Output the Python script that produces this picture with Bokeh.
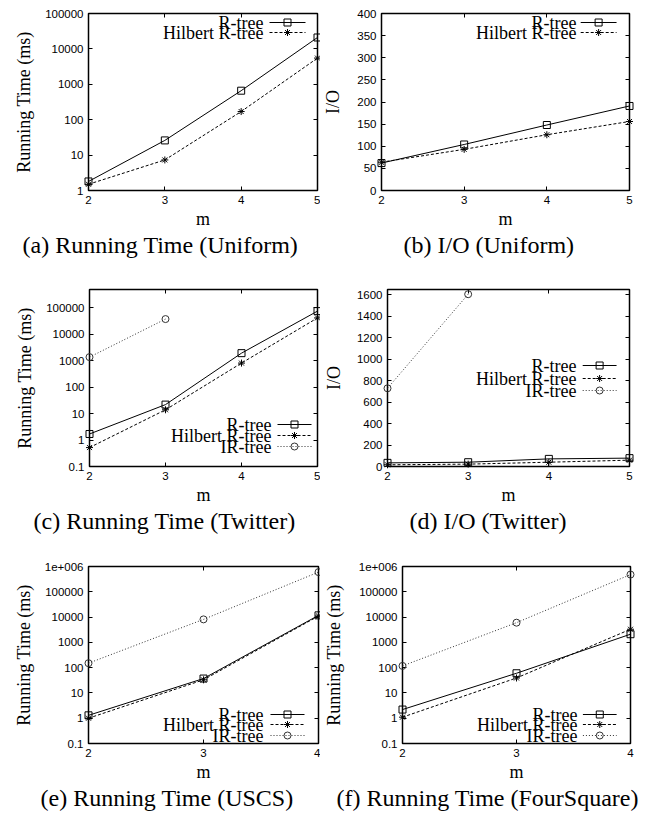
from bokeh.plotting import figure
from bokeh.models import Range1d, LinearScale, FixedTicker, LinearAxis, LogAxis, Label, Title
from bokeh.layouts import column, row
from bokeh.embed import file_html
from bokeh.resources import INLINE

# ---------------- data ----------------
m_to5 = [2, 3, 4, 5]
m_to4 = [2, 3, 4]
m_ir_twitter = [2, 3]

uniform_time_rtree = [1.8, 26, 660, 21000]
uniform_time_hilbert = [1.5, 7.3, 170, 5500]

uniform_io_rtree = [62, 104, 148, 191]
uniform_io_hilbert = [64, 93, 126, 156]

twitter_time_rtree = [1.7, 22, 1950, 76000]
twitter_time_hilbert = [0.52, 14, 820, 42000]
twitter_time_irtree = [1380, 38000]

twitter_io_rtree = [34, 40, 71, 78]
twitter_io_hilbert = [16, 22, 40, 59]
twitter_io_irtree = [729, 1606]

uscs_time_rtree = [1.3, 37, 11700]
uscs_time_hilbert = [1.0, 33, 11000]
uscs_time_irtree = [150, 8100, 600000]

foursquare_time_rtree = [2.2, 60, 2100]
foursquare_time_hilbert = [1.1, 39, 3300]
foursquare_time_irtree = [117, 6000, 480000]

ticks_time_a = [1, 10, 100, 1000, 10000, 100000]
labels_time_a = ["1", "10", "100", "1000", "10000", "100000"]
ticks_time_c = [0.1, 1, 10, 100, 1000, 10000, 100000]
labels_time_c = ["0.1", "1", "10", "100", "1000", "10000", "100000"]
ticks_time_ef = [0.1, 1, 10, 100, 1000, 10000, 100000, 1000000]
labels_time_ef = ["0.1", "1", "10", "100", "1000", "10000", "100000", "1e+006"]
ticks_io_uniform = [0, 50, 100, 150, 200, 250, 300, 350, 400]
labels_io_uniform = ["0", "50", "100", "150", "200", "250", "300", "350", "400"]
ticks_io_twitter = [0, 200, 400, 600, 800, 1000, 1200, 1400, 1600]
labels_io_twitter = ["0", "200", "400", "600", "800", "1000", "1200", "1400", "1600"]

series_names = ["R-tree", "Hilbert R-tree", "IR-tree"]
captions = ["(a) Running Time (Uniform)", "(b) I/O (Uniform)",
            "(c) Running Time (Twitter)", "(d) I/O (Twitter)",
            "(e) Running Time (USCS)", "(f) Running Time (FourSquare)"]

STYLE = {
    "R-tree": dict(dash="solid", marker="square", color="black"),
    "Hilbert R-tree": dict(dash="3 2", marker="asterisk", color="black"),
    "IR-tree": dict(dash="1 2", marker="circle", color="#333333"),
}

SERIF = "Liberation Serif"
SANS = "Liberation Sans"
FH = 177  # frame height


def style_axis(ax):
    ax.major_tick_in = 4
    ax.major_tick_out = 0
    ax.minor_tick_in = 0
    ax.minor_tick_out = 0
    ax.axis_line_color = None
    ax.major_tick_line_color = "black"
    ax.major_label_text_font = SANS
    ax.major_label_text_font_size = "11.5px"
    ax.major_label_text_color = "black"
    ax.major_label_standoff = 5
    ax.axis_label_text_font = SERIF
    ax.axis_label_text_font_size = "18px"
    ax.axis_label_text_font_style = "normal"
    ax.axis_label_text_color = "black"


def mirror_axis(cls, ticks):
    return cls(ticker=FixedTicker(ticks=ticks), major_label_text_font_size="1px",
               major_label_text_alpha=0.0,
               major_label_standoff=0, major_tick_in=4, major_tick_out=0,
               minor_tick_in=0, minor_tick_out=0, axis_line_color=None,
               major_tick_line_color="black")


def panel(width, height, mbl, mbr, mbt, mbb, fw, log, xrange, xticks, yrange, yticks, ylabels,
          ylabel, ylab_standoff, series, legend, caption, cap_offset):
    p = figure(width=width, height=height,
               x_range=Range1d(*xrange), y_range=Range1d(*yrange),
               y_axis_type="log" if log else "linear",
               output_backend="svg", toolbar_location=None,
               min_border_left=mbl, min_border_right=mbr,
               min_border_top=mbt, min_border_bottom=mbb)
    p.xgrid.visible = False
    p.ygrid.visible = False
    p.outline_line_color = "black"
    p.outline_line_width = 1.5
    p.outline_line_alpha = 1.0
    p.background_fill_color = "white"
    p.border_fill_color = "white"

    xa = p.xaxis[0]
    ya = p.yaxis[0]
    style_axis(xa)
    style_axis(ya)
    xa.ticker = FixedTicker(ticks=xticks)
    xa.axis_label = "m"
    xa.axis_label_standoff = 2
    ya.ticker = FixedTicker(ticks=yticks)
    ya.major_label_overrides = dict(zip(yticks, ylabels))
    ya.axis_label = ylabel
    ya.axis_label_standoff = ylab_standoff

    p.add_layout(mirror_axis(LinearAxis, xticks), "above")
    p.add_layout(mirror_axis(LogAxis if log else LinearAxis, yticks), "right")

    # pixel ranges for the gnuplot-style key
    p.extra_x_ranges = {"px": Range1d(0, fw)}
    p.extra_y_ranges = {"px": Range1d(0, FH)}
    p.extra_x_scales = {"px": LinearScale()}
    p.extra_y_scales = {"px": LinearScale()}

    for name, xs, ys in series:
        st = STYLE[name]
        p.line(xs, ys, line_color=st["color"], line_width=1, line_dash=st["dash"], level="overlay")
        p.scatter(xs, ys, marker=st["marker"], size=7, fill_color=None,
                  line_color=st["color"], line_width=1, level="overlay")

    text_right, s0, s1, rows = legend
    for name, ry in zip([s[0] for s in series], rows):
        st = STYLE[name]
        p.add_layout(Label(x=text_right, y=ry, x_units="screen", y_units="screen", text=name,
                           text_align="right", text_baseline="middle",
                           text_font=SERIF, text_font_size="18px", text_color="black"))
        p.line([s0, s1], [ry, ry], x_range_name="px", y_range_name="px",
               line_color=st["color"], line_width=1, line_dash=st["dash"], level="overlay")
        p.scatter([(s0 + s1) / 2], [ry], x_range_name="px", y_range_name="px",
                  marker=st["marker"], size=7, fill_color=None, line_color=st["color"],
                  line_width=1, level="overlay")

    p.add_layout(Title(text=caption, align="left", offset=cap_offset, standoff=0,
                       vertical_align="top",
                       text_font=SERIF, text_font_size="24px", text_font_style="normal",
                       text_color="black"), "below")
    return p


RT = "Running Time (ms)"

pa = panel(320, 284, 88, 3, 13, 94, 229, True, (2, 5), m_to5, (1, 100000), ticks_time_a, labels_time_a,
           RT, 8,
           [("R-tree", m_to5, uniform_time_rtree), ("Hilbert R-tree", m_to5, uniform_time_hilbert)],
           (175, 181, 217, [168, 158]), captions[0], -66)

pb = panel(323, 284, 60, 14, 13, 94, 249, False, (2, 5), m_to5, (0, 400), ticks_io_uniform, labels_io_uniform,
           "I/O", 11,
           [("R-tree", m_to5, uniform_io_rtree), ("Hilbert R-tree", m_to5, uniform_io_hilbert)],
           (195, 200, 236, [168, 158]), captions[1], 22)

pc = panel(320, 277, 89, 3, 5, 95, 228, True, (2, 5), m_to5, (0.1, 500000), ticks_time_c, labels_time_c,
           RT, 8,
           [("R-tree", m_to5, twitter_time_rtree), ("Hilbert R-tree", m_to5, twitter_time_hilbert),
            ("IR-tree", m_ir_twitter, twitter_time_irtree)],
           (182, 188, 222, [42, 31, 20]), captions[2], -56)

pd_ = panel(323, 277, 66, 14, 5, 95, 243, False, (2, 5), m_to5, (0, 1650), ticks_io_twitter, labels_io_twitter,
            "I/O", 10,
            [("R-tree", m_to5, twitter_io_rtree), ("Hilbert R-tree", m_to5, twitter_io_hilbert),
             ("IR-tree", m_ir_twitter, twitter_io_irtree)],
            (189, 196, 230, [101, 88, 76]), captions[3], 22)

pe = panel(320, 252, 88, 2, 5, 70, 230, True, (2, 4), m_to4, (0.1, 1000000), ticks_time_ef, labels_time_ef,
           RT, 8,
           [("R-tree", m_to4, uscs_time_rtree), ("Hilbert R-tree", m_to4, uscs_time_hilbert),
            ("IR-tree", m_to4, uscs_time_irtree)],
           (175, 182, 216, [29, 19, 8]), captions[4], -48)

pf = panel(323, 252, 80, 13, 5, 70, 230, True, (2, 4), m_to4, (0.1, 1000000), ticks_time_ef, labels_time_ef,
           RT, 12,
           [("R-tree", m_to4, foursquare_time_rtree), ("Hilbert R-tree", m_to4, foursquare_time_hilbert),
            ("IR-tree", m_to4, foursquare_time_irtree)],
           (175, 182, 216, [29, 19, 8]), captions[5], -66)

layout = column(row(pa, pb), row(pc, pd_), row(pe, pf))

open("out.html", "w").write(file_html(layout, INLINE))
